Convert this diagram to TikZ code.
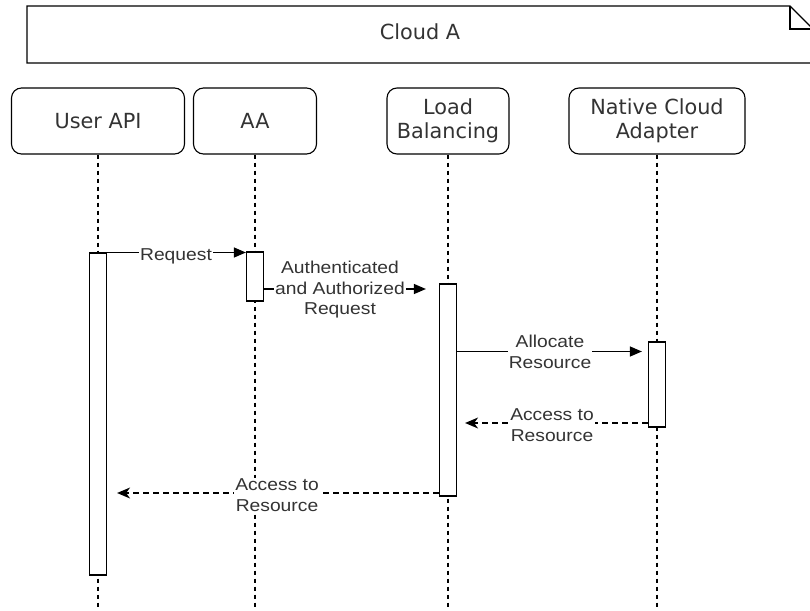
\documentclass[tikz,border=0pt]{standalone}
\usepackage{fontspec}
\usetikzlibrary{arrows.meta}
\newfontfamily\hdrfont{DejaVu Sans}
\newfontfamily\lblfont[FakeStretch=1.12]{Liberation Sans}
\definecolor{txt}{gray}{0.2}
\tikzset{
  head/.style={draw, rounded corners=10pt, line width=1.1pt, minimum height=66pt,
    align=center, text=txt, font=\hdrfont\fontsize{20.8}{24}\selectfont, inner sep=0pt},
  life/.style={line width=1.1pt, dash pattern=on 4pt off 4pt},
  actbar/.style={draw, fill=white, line width=1.2pt, minimum width=17pt, inner sep=0pt},
  call/.style={line width=1.2pt, -{Triangle[length=12pt,width=10pt]}},
  reply/.style={line width=1.2pt, dash pattern=on 6pt off 4pt,
    -{Stealth[length=13pt,width=11pt,inset=4pt]}},
  msglabel/.style={fill=white, inner sep=1pt, align=center, text=txt,
    font=\lblfont\fontsize{17.2}{20.5}\selectfont},
}
\begin{document}
\begin{tikzpicture}[x=1pt, y=-1pt]
\useasboundingbox (0,0) rectangle (810,610);
\clip (0,0) rectangle (810,610);

% frame note with folded corner
\draw[line width=1.1pt] (27,6) -- (790,6) -- (813,29) -- (813,63) -- (27,63) -- cycle;
\draw[line width=1.1pt] (790,6) -- (790,29) -- (813,29);
\node[text=txt, font=\hdrfont\fontsize{20.8}{24}\selectfont] (frame) at (420,32) {Cloud A};

% participants
\node[head, minimum width=173pt] (uapi) at (98,121) {User API};
\node[head, minimum width=123pt] (aa) at (255,121) {AA};
\node[head, minimum width=122pt] (lb) at (448,121) {Load\\Balancing};
\node[head, minimum width=176pt] (nca) at (657,121) {Native Cloud\\Adapter};

% lifelines
\foreach \p in {uapi, aa, lb, nca}
  \draw[life] (\p.south) -- (\p.south |- 0,610);

% activation bars
\node[actbar, minimum height=322pt] (ubar) at (98,414) {};
\node[actbar, minimum height=49pt] (aabar) at (255,276.5) {};
\node[actbar, minimum height=212pt] (lbbar) at (448,390) {};
\node[actbar, minimum height=85pt] (nbar) at (657,384.5) {};

% messages
\draw[call] (ubar.east |- 0,252.5) -- (aabar.west |- 0,252.5);
\node[msglabel] (l1) at (176,256) {Request};

\draw[call, shorten >=13pt] (aabar.east |- 0,289) -- (lbbar.west |- 0,289);
\node[msglabel] (l2) at (340,290) {Authenticated\\and Authorized\\Request};

\draw[call, shorten >=6pt] (lbbar.east |- 0,351.5) -- (nbar.west |- 0,351.5);
\node[msglabel] (l3) at (550,352) {Allocate\\Resource};

\draw[reply, shorten >=8pt] (nbar.west |- 0,423) -- (lbbar.east |- 0,423);
\node[msglabel] (l4) at (552,425) {Access to\\Resource};

\draw[reply, shorten >=10pt] (lbbar.west |- 0,493) -- (ubar.east |- 0,493);
\node[msglabel] (l5) at (277,495) {Access to\\Resource};
\end{tikzpicture}
\end{document}
